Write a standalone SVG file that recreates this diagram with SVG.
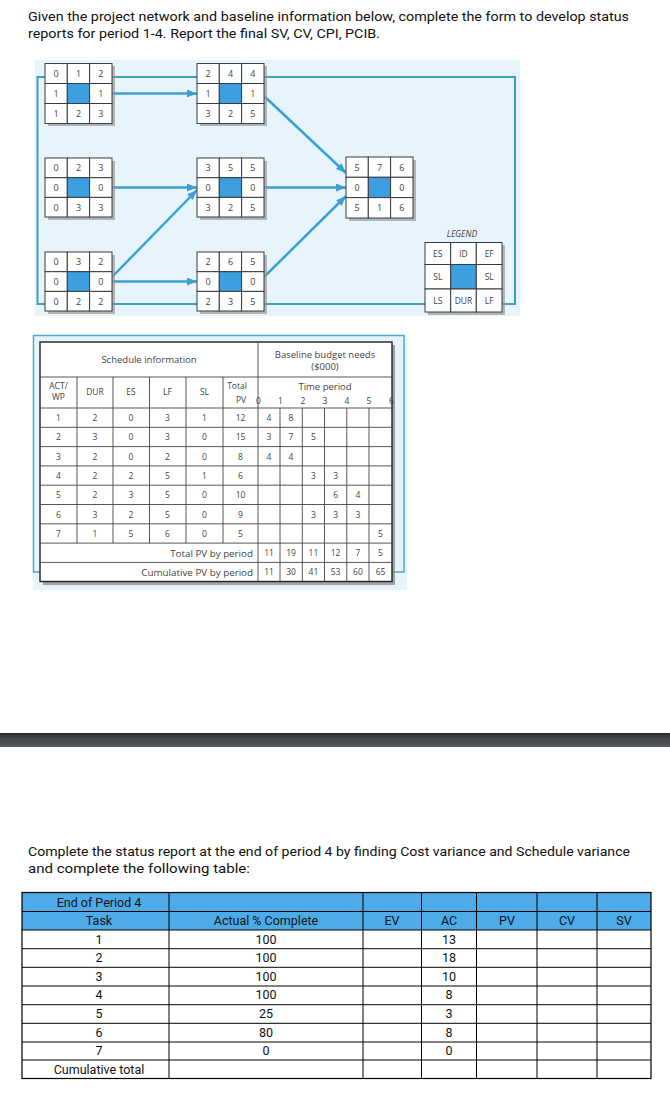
<svg xmlns="http://www.w3.org/2000/svg" width="670" height="1099" viewBox="0 0 670 1099">
<style>
.title{font-family:Roboto,"Liberation Sans",sans-serif;font-size:13px;fill:#111}
.cell{fill:#fff;stroke:#3a3a3a;stroke-width:1}
.blue{fill:#3d9fe0;stroke:#3a3a3a;stroke-width:1}
.shadow{fill:#9a9a9a;opacity:0.7}
.nt{font-family:"Open Sans","Liberation Sans",sans-serif;font-size:9px;fill:#444;text-anchor:middle}
.frame{fill:none;stroke:#3e9fc6;stroke-width:2}
.arrow{fill:none;stroke:#3aa0d6;stroke-width:2.5;marker-end:url(#ah)}
.st{font-family:"Open Sans","Liberation Sans",sans-serif;font-size:8.5px;fill:#444;text-anchor:middle}
.sh{font-family:"Open Sans","Liberation Sans",sans-serif;font-size:9.5px;fill:#444;text-anchor:middle}
.str{font-family:"Open Sans","Liberation Sans",sans-serif;font-size:9.8px;fill:#444;text-anchor:end}
.tl{stroke:#444;stroke-width:0.9}
.bt{font-family:Roboto,"Liberation Sans",sans-serif;font-size:12.5px;fill:#111;text-anchor:middle}
.bl{stroke:#000;stroke-width:1}
</style>
<defs>
<marker id="ah" markerUnits="userSpaceOnUse" markerWidth="10" markerHeight="8" refX="10" refY="4" orient="auto">
<path d="M0,0 L10,4 L0,8 Z" fill="#3aa0d6"/>
</marker>
<linearGradient id="bar" x1="0" y1="0" x2="0" y2="1">
<stop offset="0" stop-color="#2a2a2a"/>
<stop offset="0.4" stop-color="#45484b"/>
<stop offset="1" stop-color="#575a5d"/>
</linearGradient>
</defs>
<rect x="0" y="0" width="670" height="1099" fill="#fff"/>

<g id="title">
<text class="title" x="28" y="21" textLength="601" lengthAdjust="spacingAndGlyphs">Given the project network and baseline information below, complete the form to develop status</text>
<text class="title" x="28" y="38" textLength="352" lengthAdjust="spacingAndGlyphs">reports for period 1-4. Report the final SV, CV, CPI, PCIB.</text>
</g>

<rect x="35" y="60" width="485" height="256" fill="#e8f4fb"/>

<g id="connectors">
<rect class="frame" x="37.5" y="77" width="477.5" height="227"/>
<line class="arrow" x1="112" y1="93.5" x2="197" y2="93.5"/>
<line class="arrow" x1="112" y1="187.5" x2="197" y2="187.5"/>
<line class="arrow" x1="112" y1="277" x2="197" y2="190"/>
<line class="arrow" x1="112" y1="281.5" x2="197" y2="281.5"/>
<line class="arrow" x1="264" y1="96" x2="346" y2="173"/>
<line class="arrow" x1="264" y1="187.5" x2="346" y2="187.5"/>
<line class="arrow" x1="264" y1="277" x2="346" y2="196"/>
</g>

<g id="node1">
<rect class="shadow" x="48" y="66" width="67" height="60"/>
<rect class="cell" x="45" y="63.5" width="22.3" height="20"/><rect class="cell" x="67.3" y="63.5" width="22.3" height="20"/><rect class="cell" x="89.6" y="63.5" width="22.4" height="20"/>
<rect class="cell" x="45" y="83.5" width="22.3" height="20"/><rect class="blue" x="67.3" y="83.5" width="22.3" height="20"/><rect class="cell" x="89.6" y="83.5" width="22.4" height="20"/>
<rect class="cell" x="45" y="103.5" width="22.3" height="20"/><rect class="cell" x="67.3" y="103.5" width="22.3" height="20"/><rect class="cell" x="89.6" y="103.5" width="22.4" height="20"/>
<text class="nt" x="56" y="77">0</text><text class="nt" x="78.5" y="77">1</text><text class="nt" x="100.8" y="77">2</text>
<text class="nt" x="56" y="97">1</text><text class="nt" x="100.8" y="97">1</text>
<text class="nt" x="56" y="117">1</text><text class="nt" x="78.5" y="117">2</text><text class="nt" x="100.8" y="117">3</text>
</g>

<g id="node2">
<rect class="shadow" x="48" y="161" width="67" height="59"/>
<rect class="cell" x="45" y="158" width="22.3" height="19.7"/><rect class="cell" x="67.3" y="158" width="22.3" height="19.7"/><rect class="cell" x="89.6" y="158" width="22.4" height="19.7"/>
<rect class="cell" x="45" y="177.7" width="22.3" height="19.7"/><rect class="blue" x="67.3" y="177.7" width="22.3" height="19.7"/><rect class="cell" x="89.6" y="177.7" width="22.4" height="19.7"/>
<rect class="cell" x="45" y="197.4" width="22.3" height="19.6"/><rect class="cell" x="67.3" y="197.4" width="22.3" height="19.6"/><rect class="cell" x="89.6" y="197.4" width="22.4" height="19.6"/>
<text class="nt" x="56" y="171">0</text><text class="nt" x="78.5" y="171">2</text><text class="nt" x="100.8" y="171">3</text>
<text class="nt" x="56" y="191">0</text><text class="nt" x="100.8" y="191">0</text>
<text class="nt" x="56" y="210.5">0</text><text class="nt" x="78.5" y="210.5">3</text><text class="nt" x="100.8" y="210.5">3</text>
</g>

<g id="node3">
<rect class="shadow" x="48" y="255" width="67" height="59"/>
<rect class="cell" x="45" y="252" width="22.3" height="19.7"/><rect class="cell" x="67.3" y="252" width="22.3" height="19.7"/><rect class="cell" x="89.6" y="252" width="22.4" height="19.7"/>
<rect class="cell" x="45" y="271.7" width="22.3" height="19.7"/><rect class="blue" x="67.3" y="271.7" width="22.3" height="19.7"/><rect class="cell" x="89.6" y="271.7" width="22.4" height="19.7"/>
<rect class="cell" x="45" y="291.4" width="22.3" height="19.6"/><rect class="cell" x="67.3" y="291.4" width="22.3" height="19.6"/><rect class="cell" x="89.6" y="291.4" width="22.4" height="19.6"/>
<text class="nt" x="56" y="265">0</text><text class="nt" x="78.5" y="265">3</text><text class="nt" x="100.8" y="265">2</text>
<text class="nt" x="56" y="285">0</text><text class="nt" x="100.8" y="285">0</text>
<text class="nt" x="56" y="304.5">0</text><text class="nt" x="78.5" y="304.5">2</text><text class="nt" x="100.8" y="304.5">2</text>
</g>

<g id="node4">
<rect class="shadow" x="200" y="66" width="67" height="60"/>
<rect class="cell" x="197" y="63.5" width="22.3" height="20"/><rect class="cell" x="219.3" y="63.5" width="22.3" height="20"/><rect class="cell" x="241.6" y="63.5" width="22.4" height="20"/>
<rect class="cell" x="197" y="83.5" width="22.3" height="20"/><rect class="blue" x="219.3" y="83.5" width="22.3" height="20"/><rect class="cell" x="241.6" y="83.5" width="22.4" height="20"/>
<rect class="cell" x="197" y="103.5" width="22.3" height="20"/><rect class="cell" x="219.3" y="103.5" width="22.3" height="20"/><rect class="cell" x="241.6" y="103.5" width="22.4" height="20"/>
<text class="nt" x="208" y="77">2</text><text class="nt" x="230.5" y="77">4</text><text class="nt" x="252.8" y="77">4</text>
<text class="nt" x="208" y="97">1</text><text class="nt" x="252.8" y="97">1</text>
<text class="nt" x="208" y="117">3</text><text class="nt" x="230.5" y="117">2</text><text class="nt" x="252.8" y="117">5</text>
</g>

<g id="node5">
<rect class="shadow" x="200" y="161" width="67" height="59"/>
<rect class="cell" x="197" y="158" width="22.3" height="19.7"/><rect class="cell" x="219.3" y="158" width="22.3" height="19.7"/><rect class="cell" x="241.6" y="158" width="22.4" height="19.7"/>
<rect class="cell" x="197" y="177.7" width="22.3" height="19.7"/><rect class="blue" x="219.3" y="177.7" width="22.3" height="19.7"/><rect class="cell" x="241.6" y="177.7" width="22.4" height="19.7"/>
<rect class="cell" x="197" y="197.4" width="22.3" height="19.6"/><rect class="cell" x="219.3" y="197.4" width="22.3" height="19.6"/><rect class="cell" x="241.6" y="197.4" width="22.4" height="19.6"/>
<text class="nt" x="208" y="171">3</text><text class="nt" x="230.5" y="171">5</text><text class="nt" x="252.8" y="171">5</text>
<text class="nt" x="208" y="191">0</text><text class="nt" x="252.8" y="191">0</text>
<text class="nt" x="208" y="210.5">3</text><text class="nt" x="230.5" y="210.5">2</text><text class="nt" x="252.8" y="210.5">5</text>
</g>

<g id="node6">
<rect class="shadow" x="200" y="255" width="67" height="59"/>
<rect class="cell" x="197" y="252" width="22.3" height="19.7"/><rect class="cell" x="219.3" y="252" width="22.3" height="19.7"/><rect class="cell" x="241.6" y="252" width="22.4" height="19.7"/>
<rect class="cell" x="197" y="271.7" width="22.3" height="19.7"/><rect class="blue" x="219.3" y="271.7" width="22.3" height="19.7"/><rect class="cell" x="241.6" y="271.7" width="22.4" height="19.7"/>
<rect class="cell" x="197" y="291.4" width="22.3" height="19.6"/><rect class="cell" x="219.3" y="291.4" width="22.3" height="19.6"/><rect class="cell" x="241.6" y="291.4" width="22.4" height="19.6"/>
<text class="nt" x="208" y="265">2</text><text class="nt" x="230.5" y="265">6</text><text class="nt" x="252.8" y="265">5</text>
<text class="nt" x="208" y="285">0</text><text class="nt" x="252.8" y="285">0</text>
<text class="nt" x="208" y="304.5">2</text><text class="nt" x="230.5" y="304.5">3</text><text class="nt" x="252.8" y="304.5">5</text>
</g>

<g id="node7">
<rect class="shadow" x="349" y="160" width="67" height="61"/>
<rect class="cell" x="346" y="157" width="22.3" height="20.3"/><rect class="cell" x="368.3" y="157" width="22.3" height="20.3"/><rect class="cell" x="390.6" y="157" width="22.4" height="20.3"/>
<rect class="cell" x="346" y="177.3" width="22.3" height="20.3"/><rect class="blue" x="368.3" y="177.3" width="22.3" height="20.3"/><rect class="cell" x="390.6" y="177.3" width="22.4" height="20.3"/>
<rect class="cell" x="346" y="197.6" width="22.3" height="20.4"/><rect class="cell" x="368.3" y="197.6" width="22.3" height="20.4"/><rect class="cell" x="390.6" y="197.6" width="22.4" height="20.4"/>
<text class="nt" x="357" y="170.5">5</text><text class="nt" x="379.5" y="170.5">7</text><text class="nt" x="401.8" y="170.5">6</text>
<text class="nt" x="357" y="191">0</text><text class="nt" x="401.8" y="191">0</text>
<text class="nt" x="357" y="211">5</text><text class="nt" x="379.5" y="211">1</text><text class="nt" x="401.8" y="211">6</text>
</g>

<g id="legend">
<text x="462" y="237" font-family="'Open Sans','Liberation Sans',sans-serif" font-size="8.5" font-style="italic" fill="#444" text-anchor="middle">LEGEND</text>
<rect class="shadow" x="428" y="245" width="77" height="70"/>
<rect class="cell" x="425" y="242.5" width="25.7" height="22"/><rect class="cell" x="450.7" y="242.5" width="25.6" height="22"/><rect class="cell" x="476.3" y="242.5" width="25.7" height="22"/>
<rect class="cell" x="425" y="264.5" width="25.7" height="24.5"/><rect class="blue" x="450.7" y="264.5" width="25.6" height="24.5"/><rect class="cell" x="476.3" y="264.5" width="25.7" height="24.5"/>
<rect class="cell" x="425" y="289" width="25.7" height="23"/><rect class="cell" x="450.7" y="289" width="25.6" height="23"/><rect class="cell" x="476.3" y="289" width="25.7" height="23"/>
<text class="st" x="437.8" y="256.5">ES</text><text class="st" x="463.5" y="256.5">ID</text><text class="st" x="489.2" y="256.5">EF</text>
<text class="st" x="437.8" y="280">SL</text><text class="st" x="489.2" y="280">SL</text>
<text class="st" x="437.8" y="304">LS</text><text class="st" x="463.5" y="304">DUR</text><text class="st" x="489.2" y="304">LF</text>
</g>

<g id="schedule">
<rect x="33" y="335" width="374" height="255" fill="#e8f4fb"/>
<rect x="33.5" y="335.5" width="370.5" height="236.5" fill="none" stroke="#4aaad2" stroke-width="1.5"/>
<rect x="43" y="345" width="352" height="240" fill="#8a8a8a" opacity="0.75"/>
<rect x="40" y="342" width="352" height="239.5" fill="#fff" stroke="#222" stroke-width="1.4"/>
<g class="tl">
<line x1="40" y1="377" x2="392" y2="377"/>
<line x1="40" y1="408" x2="392" y2="408"/>
<line x1="40" y1="427.3" x2="392" y2="427.3"/>
<line x1="40" y1="446.6" x2="392" y2="446.6"/>
<line x1="40" y1="465.9" x2="392" y2="465.9"/>
<line x1="40" y1="485.2" x2="392" y2="485.2"/>
<line x1="40" y1="504.5" x2="392" y2="504.5"/>
<line x1="40" y1="523.8" x2="392" y2="523.8"/>
<line x1="40" y1="543.1" x2="392" y2="543.1"/>
<line x1="40" y1="562.4" x2="392" y2="562.4"/>
<line x1="77" y1="377" x2="77" y2="543.1"/>
<line x1="113" y1="377" x2="113" y2="543.1"/>
<line x1="149.5" y1="377" x2="149.5" y2="543.1"/>
<line x1="186" y1="377" x2="186" y2="543.1"/>
<line x1="223" y1="377" x2="223" y2="543.1"/>
<line x1="258" y1="342" x2="258" y2="581.5"/>
<line x1="280" y1="408" x2="280" y2="581.5"/>
<line x1="302.3" y1="408" x2="302.3" y2="581.5"/>
<line x1="324.5" y1="408" x2="324.5" y2="581.5"/>
<line x1="346.8" y1="408" x2="346.8" y2="581.5"/>
<line x1="369" y1="408" x2="369" y2="581.5"/>
</g>
<text class="sh" x="149" y="363">Schedule information</text>
<text class="sh" x="325" y="358">Baseline budget needs</text>
<text class="sh" x="325" y="370">($000)</text>
<text class="st" x="58.5" y="389">ACT/</text>
<text class="st" x="58.5" y="400">WP</text>
<text class="st" x="95" y="395">DUR</text>
<text class="st" x="131" y="395">ES</text>
<text class="st" x="167.5" y="395">LF</text>
<text class="st" x="204.5" y="395">SL</text>
<text class="st" x="237" y="389">Total</text>
<text class="st" x="241" y="403">PV</text>
<text class="sh" x="325" y="390">Time period</text>
<text class="st" x="258.5" y="404">0</text><text class="st" x="280.5" y="404">1</text><text class="st" x="303" y="404">2</text><text class="st" x="325" y="404">3</text><text class="st" x="347" y="404">4</text><text class="st" x="369" y="404">5</text><text class="st" x="391.5" y="404">6</text>
<g>
<text class="st" x="58.5" y="421">1</text><text class="st" x="95" y="421">2</text><text class="st" x="131" y="421">0</text><text class="st" x="167.5" y="421">3</text><text class="st" x="204.5" y="421">1</text><text class="st" x="240.5" y="421">12</text><text class="st" x="269" y="421">4</text><text class="st" x="291" y="421">8</text>
<text class="st" x="58.5" y="440.3">2</text><text class="st" x="95" y="440.3">3</text><text class="st" x="131" y="440.3">0</text><text class="st" x="167.5" y="440.3">3</text><text class="st" x="204.5" y="440.3">0</text><text class="st" x="240.5" y="440.3">15</text><text class="st" x="269" y="440.3">3</text><text class="st" x="291" y="440.3">7</text><text class="st" x="313.4" y="440.3">5</text>
<text class="st" x="58.5" y="459.6">3</text><text class="st" x="95" y="459.6">2</text><text class="st" x="131" y="459.6">0</text><text class="st" x="167.5" y="459.6">2</text><text class="st" x="204.5" y="459.6">0</text><text class="st" x="240.5" y="459.6">8</text><text class="st" x="269" y="459.6">4</text><text class="st" x="291" y="459.6">4</text>
<text class="st" x="58.5" y="478.9">4</text><text class="st" x="95" y="478.9">2</text><text class="st" x="131" y="478.9">2</text><text class="st" x="167.5" y="478.9">5</text><text class="st" x="204.5" y="478.9">1</text><text class="st" x="240.5" y="478.9">6</text><text class="st" x="313.4" y="478.9">3</text><text class="st" x="335.6" y="478.9">3</text>
<text class="st" x="58.5" y="498.2">5</text><text class="st" x="95" y="498.2">2</text><text class="st" x="131" y="498.2">3</text><text class="st" x="167.5" y="498.2">5</text><text class="st" x="204.5" y="498.2">0</text><text class="st" x="240.5" y="498.2">10</text><text class="st" x="335.6" y="498.2">6</text><text class="st" x="357.9" y="498.2">4</text>
<text class="st" x="58.5" y="517.5">6</text><text class="st" x="95" y="517.5">3</text><text class="st" x="131" y="517.5">2</text><text class="st" x="167.5" y="517.5">5</text><text class="st" x="204.5" y="517.5">0</text><text class="st" x="240.5" y="517.5">9</text><text class="st" x="313.4" y="517.5">3</text><text class="st" x="335.6" y="517.5">3</text><text class="st" x="357.9" y="517.5">3</text>
<text class="st" x="58.5" y="536.8">7</text><text class="st" x="95" y="536.8">1</text><text class="st" x="131" y="536.8">5</text><text class="st" x="167.5" y="536.8">6</text><text class="st" x="204.5" y="536.8">0</text><text class="st" x="240.5" y="536.8">5</text><text class="st" x="380.5" y="536.8">5</text>
<text class="str" x="253" y="556.5">Total PV by period</text>
<text class="st" x="269" y="556.1">11</text><text class="st" x="291" y="556.1">19</text><text class="st" x="313.4" y="556.1">11</text><text class="st" x="335.6" y="556.1">12</text><text class="st" x="357.9" y="556.1">7</text><text class="st" x="380.5" y="556.1">5</text>
<text class="str" x="253" y="575.8">Cumulative PV by period</text>
<text class="st" x="269" y="575.4">11</text><text class="st" x="291" y="575.4">30</text><text class="st" x="313.4" y="575.4">41</text><text class="st" x="335.6" y="575.4">53</text><text class="st" x="357.9" y="575.4">60</text><text class="st" x="380.5" y="575.4">65</text>
</g>
</g>

<rect id="divider" x="0" y="733" width="670" height="14" fill="url(#bar)"/>

<g id="question">
<text class="title" x="28" y="856" textLength="602" lengthAdjust="spacingAndGlyphs">Complete the status report at the end of period 4 by finding Cost variance and Schedule variance</text>
<text class="title" x="28" y="872.5" textLength="222" lengthAdjust="spacingAndGlyphs">and complete the following table:</text>
</g>

<g id="status-table">
<rect x="22" y="892.5" width="629" height="37.5" fill="#4dabe8"/>
<rect x="22" y="892.5" width="629" height="186" fill="none" stroke="#000" stroke-width="1.2"/>
<g class="bl">
<line x1="22" y1="911.5" x2="651" y2="911.5"/>
<line x1="22" y1="930" x2="651" y2="930"/>
<line x1="22" y1="948.7" x2="651" y2="948.7"/>
<line x1="22" y1="967.3" x2="651" y2="967.3"/>
<line x1="22" y1="986" x2="651" y2="986"/>
<line x1="22" y1="1004.7" x2="651" y2="1004.7"/>
<line x1="22" y1="1023.3" x2="651" y2="1023.3"/>
<line x1="22" y1="1042" x2="651" y2="1042"/>
<line x1="22" y1="1060" x2="651" y2="1060"/>
<line x1="169" y1="892.5" x2="169" y2="1078.5"/>
<line x1="363" y1="892.5" x2="363" y2="1078.5"/>
<line x1="421.5" y1="892.5" x2="421.5" y2="1078.5"/>
<line x1="476.5" y1="892.5" x2="476.5" y2="1078.5"/>
<line x1="537" y1="892.5" x2="537" y2="1078.5"/>
<line x1="597" y1="892.5" x2="597" y2="1078.5"/>
</g>
<text class="bt" x="99" y="906.5">End of Period 4</text>
<text class="bt" x="99" y="925">Task</text>
<text class="bt" x="266" y="925">Actual % Complete</text>
<text class="bt" x="392" y="925">EV</text>
<text class="bt" x="449" y="925">AC</text>
<text class="bt" x="507" y="925">PV</text>
<text class="bt" x="567" y="925">CV</text>
<text class="bt" x="624" y="925">SV</text>
<text class="bt" x="99" y="943.5">1</text><text class="bt" x="266" y="943.5">100</text><text class="bt" x="449" y="943.5">13</text>
<text class="bt" x="99" y="962">2</text><text class="bt" x="266" y="962">100</text><text class="bt" x="449" y="962">18</text>
<text class="bt" x="99" y="980.7">3</text><text class="bt" x="266" y="980.7">100</text><text class="bt" x="449" y="980.7">10</text>
<text class="bt" x="99" y="999.4">4</text><text class="bt" x="266" y="999.4">100</text><text class="bt" x="449" y="999.4">8</text>
<text class="bt" x="99" y="1018">5</text><text class="bt" x="266" y="1018">25</text><text class="bt" x="449" y="1018">3</text>
<text class="bt" x="99" y="1036.7">6</text><text class="bt" x="266" y="1036.7">80</text><text class="bt" x="449" y="1036.7">8</text>
<text class="bt" x="99" y="1055">7</text><text class="bt" x="266" y="1055">0</text><text class="bt" x="449" y="1055">0</text>
<text class="bt" x="99" y="1073.5">Cumulative total</text>
</g>
</svg>
